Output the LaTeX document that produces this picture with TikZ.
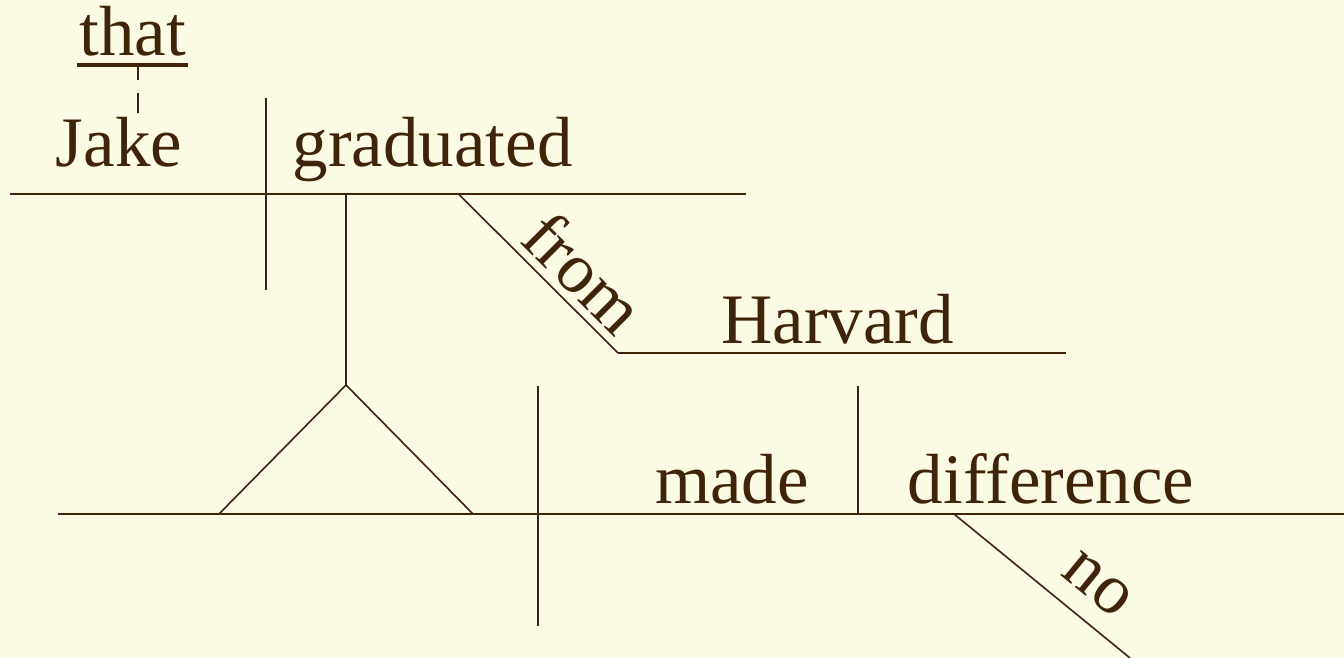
\documentclass[tikz,border=0pt]{standalone}
\usepackage{fontspec}
\setmainfont{Liberation Serif}
\definecolor{bgc}{RGB}{251,250,229}
\definecolor{ink}{RGB}{64,36,8}
\begin{document}
\begin{tikzpicture}[x=1pt,y=-1pt,
  ln/.style={draw=ink,line width=2pt},
  thin ln/.style={draw=ink,line width=1.6pt},
  word/.style={text=ink,inner sep=0pt,anchor=base,font=\fontsize{71}{76}\selectfont}]
\fill[bgc] (0,0) rectangle (1344,658);
\useasboundingbox (0,0) rectangle (1344,658);
% coordinates
\coordinate (tl) at (10,193.5);
\coordinate (tr) at (746,193.5);
\coordinate (d1t) at (266,98);
\coordinate (d1b) at (266,290);
\coordinate (st) at (346,193.5);
\coordinate (apex) at (346,385);
\coordinate (bl) at (58,514);
\coordinate (br) at (1344,514);
\coordinate (tri1) at (219,514);
\coordinate (tri2) at (473,514);
\coordinate (d2t) at (538,386);
\coordinate (d2b) at (538,626);
\coordinate (d3t) at (858,386);
\coordinate (d3b) at (858,514);
\coordinate (f1) at (458,193.5);
\coordinate (f2) at (618,353);
\coordinate (h2) at (1066,353);
\coordinate (n1) at (954,514);
\coordinate (n2) at (1130,658);
\coordinate (u1) at (77,65);
\coordinate (u2) at (188,65);
\coordinate (ds1) at (138,67);
\coordinate (ds2) at (138,113);
% words
\node[word] (that) at (132.5,56) {that};
\node[word] (jake) at (119,167) {Jake};
\node[word] (grad) at (432.5,167) {graduated};
\node[word] (harv) at (837.5,343) {Harvard};
\node[word] (made) at (732,503) {made};
\node[word] (diff) at (1051,503) {difference};
\node[word,rotate=-45] (from) at (567,290) {from};
\node[word,rotate=-39.3] (no) at (1087,597) {no};
% lines
\draw[ln] (tl) -- (tr);
\draw[ln] (d1t) -- (d1b);
\draw[ln] (st) -- (apex);
\draw[thin ln] (tri1) -- (apex) -- (tri2);
\draw[ln] (bl) -- (br);
\draw[ln] (d2t) -- (d2b);
\draw[ln] (d3t) -- (d3b);
\draw[thin ln] (f1) -- (f2);
\draw[ln] (f2) -- (h2);
\draw[thin ln] (n1) -- (n2);
\draw[draw=ink,line width=3.2pt] (u1) -- (u2);
\draw[draw=ink,line width=1.6pt,dash pattern=on 13pt off 13pt on 20pt off 0pt] (ds1) -- (ds2);
\end{tikzpicture}
\end{document}
